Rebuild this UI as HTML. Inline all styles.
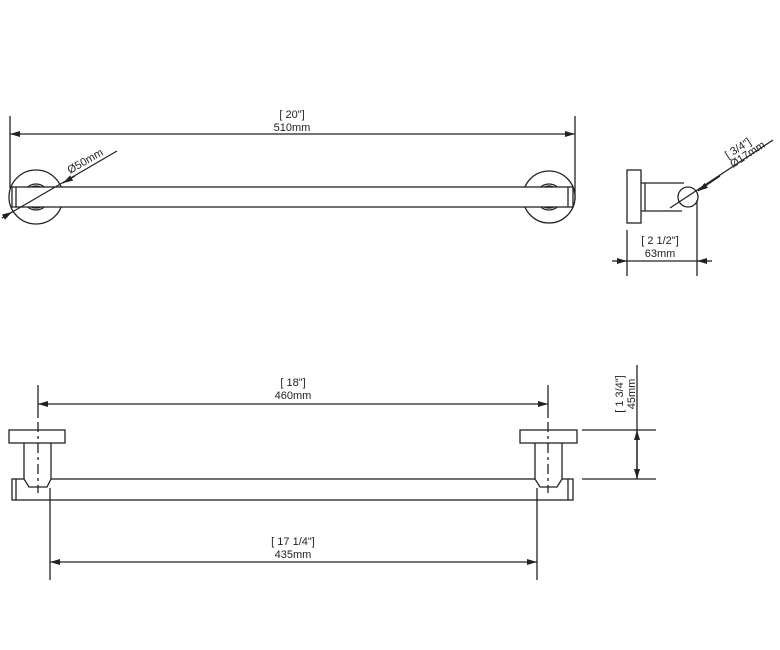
<!DOCTYPE html>
<html><head><style>
html,body{margin:0;padding:0;background:#fff;}
svg{display:block;}
text{font-family:"Liberation Sans",sans-serif;font-size:11px;fill:#222;}
</style></head><body>
<svg width="780" height="650" viewBox="0 0 780 650" xmlns="http://www.w3.org/2000/svg">
<defs>
<marker id="a" viewBox="0 0 10 6" refX="10" refY="3" markerWidth="10" markerHeight="6" orient="auto-start-reverse" markerUnits="userSpaceOnUse"><path d="M0,0L10,3L0,6z" fill="#222"/></marker>
</defs>
<g stroke="#222" stroke-width="1.3" fill="none">
<!-- TOP VIEW -->
<line x1="10" y1="116" x2="10" y2="188"/>
<line x1="575" y1="116" x2="575" y2="200"/>
<line x1="10" y1="134" x2="575" y2="134" marker-start="url(#a)" marker-end="url(#a)"/>
<circle cx="36" cy="197" r="27" fill="#fff"/>
<circle cx="36" cy="197" r="13"/><circle cx="36" cy="197" r="11"/>
<circle cx="549" cy="197" r="26" fill="#fff"/>
<circle cx="549" cy="197" r="13"/><circle cx="549" cy="197" r="11"/>
<rect x="12" y="187" width="561" height="20" fill="#fff"/>
<line x1="16" y1="187" x2="16" y2="207"/>
<line x1="568" y1="187" x2="568" y2="207"/>
<line x1="2" y1="218" x2="117" y2="151"/>
<line x1="2" y1="218" x2="12" y2="212" marker-end="url(#a)"/>
<line x1="75" y1="176" x2="63" y2="183" marker-end="url(#a)"/>
<!-- SIDE VIEW -->
<rect x="627" y="170" width="14" height="53"/>
<path d="M641,183H684M641,211H682M645,183V211"/>
<circle cx="688" cy="197" r="10" fill="#fff"/>
<line x1="670" y1="208" x2="773" y2="140"/>
<line x1="720" y1="176" x2="698" y2="191" marker-end="url(#a)"/>
<line x1="627" y1="230" x2="627" y2="276"/>
<line x1="697" y1="200" x2="697" y2="276"/>
<line x1="612" y1="261" x2="627" y2="261" marker-end="url(#a)"/>
<line x1="712" y1="261" x2="697" y2="261" marker-end="url(#a)"/>
<line x1="627" y1="261" x2="697" y2="261"/>
<!-- FRONT VIEW -->
<line x1="38" y1="385" x2="38" y2="418"/>
<line x1="548" y1="385" x2="548" y2="418"/>
<line x1="38" y1="404" x2="548" y2="404" marker-start="url(#a)" marker-end="url(#a)"/>
<rect x="12" y="479" width="561" height="21" fill="#fff"/>
<line x1="16" y1="479" x2="16" y2="500"/>
<line x1="568" y1="479" x2="568" y2="500"/>
<path d="M24,443V479L29,487H47L51,479V443" fill="#fff"/>
<path d="M535,443V479L540,487H557L562,479V443" fill="#fff"/>
<rect x="9" y="430" width="56" height="13" fill="#fff"/>
<rect x="520" y="430" width="57" height="13" fill="#fff"/>
<line x1="38" y1="422" x2="38" y2="493" stroke-dasharray="10,4,3,4"/>
<line x1="548" y1="422" x2="548" y2="493" stroke-dasharray="10,4,3,4"/>
<line x1="50" y1="488" x2="50" y2="580"/>
<line x1="537" y1="488" x2="537" y2="580"/>
<line x1="50" y1="562" x2="537" y2="562" marker-start="url(#a)" marker-end="url(#a)"/>
<line x1="582" y1="430" x2="656" y2="430"/>
<line x1="582" y1="479" x2="656" y2="479"/>
<line x1="637" y1="365" x2="637" y2="479"/>
<line x1="637" y1="455" x2="637" y2="430" marker-end="url(#a)"/>
<line x1="637" y1="455" x2="637" y2="479" marker-end="url(#a)"/>
</g>
<text x="292" y="118" text-anchor="middle">[ 20"]</text>
<text x="292" y="131" text-anchor="middle">510mm</text>
<text x="70" y="174" transform="rotate(-30 70 174)">Ø50mm</text>
<text x="728" y="159" transform="rotate(-33 728 159)">[ 3/4"]</text>
<text x="733" y="168" transform="rotate(-33 733 168)">Ø17mm</text>
<text x="660" y="244" text-anchor="middle">[ 2 1/2"]</text>
<text x="660" y="257" text-anchor="middle">63mm</text>
<text x="293" y="386" text-anchor="middle">[ 18"]</text>
<text x="293" y="399" text-anchor="middle">460mm</text>
<text x="293" y="545" text-anchor="middle">[ 17 1/4"]</text>
<text x="293" y="558" text-anchor="middle">435mm</text>
<text x="623" y="394" text-anchor="middle" transform="rotate(-90 623 394)">[ 1 3/4"]</text>
<text x="635" y="394" text-anchor="middle" transform="rotate(-90 635 394)">45mm</text>
</svg>
</body></html>
